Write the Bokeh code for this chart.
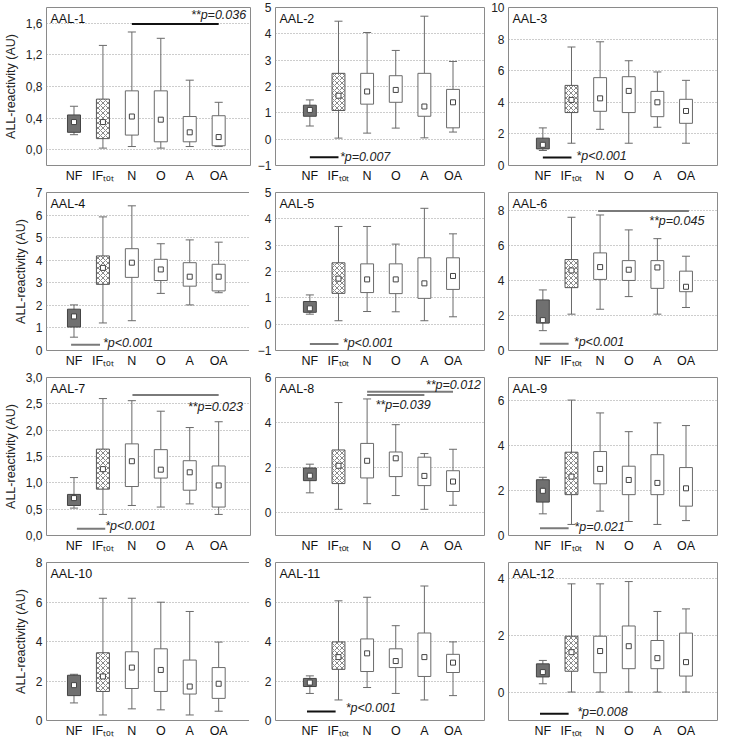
import numpy as np
from bokeh.plotting import figure
from bokeh.layouts import gridplot
from bokeh.models import Label, FixedTicker, Range1d, CustomJSTickFormatter
from bokeh.embed import file_html
from bokeh.resources import INLINE

# ---------------- data ----------------
categories = ["NF", "IF\u209c\u2092\u209c", "N", "O", "A", "OA"]
panel_titles = ["AAL-%d" % i for i in range(1, 13)]
y_axis_title = "ALL-reactivity (AU)"

whisker_high = [
    [0.55, 1.32, 1.49, 1.41, 0.88, 0.60],
    [1.49, 4.48, 4.05, 3.37, 4.67, 2.95],
    [2.38, 7.50, 7.83, 6.63, 5.92, 5.39],
    [2.02, 5.92, 6.41, 4.73, 4.90, 4.80],
    [1.11, 3.71, 3.71, 3.04, 4.40, 3.43],
    [3.45, 7.59, 7.72, 6.87, 6.37, 5.37],
    [1.10, 2.60, 2.56, 2.36, 2.05, 2.16],
    [2.16, 4.89, 5.05, 3.91, 2.63, 2.82],
    [2.58, 6.00, 5.43, 4.60, 4.99, 4.87],
    [2.34, 6.19, 6.19, 5.99, 5.52, 3.97],
    [2.26, 6.06, 6.24, 4.80, 6.81, 3.98],
    [1.11, 3.80, 3.80, 3.88, 2.83, 2.92],
]
box_high = [
    [0.44, 0.64, 0.745, 0.745, 0.42, 0.43],
    [1.29, 2.50, 2.50, 2.41, 2.50, 1.89],
    [1.73, 5.07, 5.56, 5.62, 4.69, 4.19],
    [1.83, 4.19, 4.51, 4.04, 3.89, 3.82],
    [0.86, 2.33, 2.29, 2.29, 2.52, 2.52],
    [2.88, 5.18, 5.56, 5.12, 5.12, 4.52],
    [0.78, 1.64, 1.74, 1.63, 1.42, 1.32],
    [1.99, 2.79, 3.08, 2.70, 2.47, 1.87],
    [2.47, 3.69, 3.72, 3.07, 3.58, 3.01],
    [2.29, 3.43, 3.48, 3.63, 3.06, 2.68],
    [2.13, 3.98, 4.13, 3.63, 4.43, 3.35],
    [0.99, 1.96, 1.96, 2.32, 1.81, 2.07],
]
box_low = [
    [0.22, 0.14, 0.185, 0.10, 0.10, 0.05],
    [0.87, 1.09, 1.33, 1.40, 0.87, 0.43],
    [1.05, 3.35, 3.43, 3.35, 3.09, 2.67],
    [1.04, 2.93, 3.24, 3.10, 2.85, 2.64],
    [0.45, 1.17, 1.20, 1.16, 0.98, 1.32],
    [1.56, 3.58, 4.05, 3.99, 3.54, 3.35],
    [0.57, 0.88, 0.93, 1.09, 0.86, 0.54],
    [1.43, 1.30, 1.55, 1.61, 1.21, 0.95],
    [1.48, 1.81, 2.29, 1.81, 1.81, 1.30],
    [1.26, 1.47, 1.62, 1.47, 1.34, 1.12],
    [1.72, 2.59, 2.48, 2.68, 2.23, 2.43],
    [0.53, 0.73, 0.68, 0.82, 0.82, 0.56],
]
whisker_low = [
    [0.19, 0.02, 0.04, 0.02, 0.04, 0.04],
    [0.50, 0.04, 0.23, 0.42, 0.05, 0.27],
    [0.95, 1.41, 2.29, 1.41, 2.42, 1.41],
    [0.59, 1.22, 1.32, 2.53, 2.02, 2.56],
    [0.38, 0.13, 0.48, 0.47, 0.13, 0.28],
    [1.13, 2.07, 2.35, 3.07, 2.07, 2.45],
    [0.52, 0.40, 0.57, 0.54, 0.60, 0.40],
    [0.89, 0.16, 0.41, 0.77, 0.16, 0.34],
    [0.96, 0.49, 1.08, 0.62, 0.49, 0.66],
    [0.89, 0.28, 0.59, 0.54, 0.28, 0.47],
    [1.37, 1.04, 1.67, 1.37, 1.04, 1.26],
    [0.29, 0.00, 0.00, 0.00, 0.00, 0.00],
]
center_value = [
    [0.35, 0.35, 0.42, 0.38, 0.22, 0.16],
    [1.11, 1.65, 1.81, 1.87, 1.24, 1.40],
    [1.31, 4.15, 4.25, 4.72, 4.00, 3.45],
    [1.51, 3.66, 3.89, 3.59, 3.27, 3.27],
    [0.60, 1.73, 1.70, 1.70, 1.55, 1.83],
    [1.73, 4.56, 4.75, 4.60, 4.73, 3.63],
    [0.71, 1.26, 1.41, 1.25, 1.20, 0.95],
    [1.65, 2.09, 2.31, 2.42, 1.64, 1.39],
    [1.98, 2.61, 2.95, 2.46, 2.33, 2.09],
    [1.79, 2.23, 2.68, 2.56, 1.72, 1.86],
    [1.92, 3.21, 3.40, 3.01, 3.21, 2.93],
    [0.70, 1.40, 1.44, 1.61, 1.19, 1.05],
]

y_limits = [(-0.2, 1.8), (-1, 5), (0, 10), (0, 7), (-1, 5), (0, 9),
            (0, 3), (-1, 6), (0, 7), (0, 8), (0, 8), (-1, 4.55)]
y_ticks = [
    [0, 0.4, 0.8, 1.2, 1.6],
    [-1, 0, 1, 2, 3, 4, 5],
    [0, 2, 4, 6, 8, 10],
    [0, 1, 2, 3, 4, 5, 6, 7],
    [-1, 0, 1, 2, 3, 4, 5],
    [0, 2, 4, 6, 8],
    [0, 0.5, 1.0, 1.5, 2.0, 2.5, 3.0],
    [0, 2, 4, 6],
    [0, 2, 4, 6],
    [0, 2, 4, 6, 8],
    [0, 2, 4, 6, 8],
    [0, 2, 4],
]
comma_decimal_panels = [0, 6]

# significance bars: (from category position, to category position, y)
sig_lines = [
    [(3.0, 6.0, 1.59)],
    [(1.0, 2.0, -0.69)],
    [(1.0, 2.0, 0.50)],
    [(0.9, 1.9, 0.26)],
    [(1.0, 2.0, -0.75)],
    [(2.93, 6.1, 7.95), (0.89, 1.9, 0.38)],
    [(3.02, 6.0, 2.67), (1.1, 2.08, 0.13)],
    [(3.0, 6.0, 5.37), (3.0, 5.0, 5.23)],
    [(0.9, 1.9, 0.32)],
    [],
    [(0.9, 1.9, 0.45)],
    [(0.9, 1.9, -0.76)],
]
# significance texts: (x, y, text, alignment)
sig_texts = [
    [(6.95, 1.70, "**p=0.036", "right")],
    [(2.05, -0.66, "*p=0.007", "left")],
    [(2.17, 0.57, "*p<0.001", "left")],
    [(2.0, 0.32, "*p<0.001", "left")],
    [(2.15, -0.70, "*p<0.001", "left")],
    [(6.64, 7.38, "**p=0.045", "right"), (2.08, 0.47, "*p<0.001", "left")],
    [(6.84, 2.44, "**p=0.023", "right"), (2.08, 0.18, "*p<0.001", "left")],
    [(6.98, 5.66, "**p=0.012", "right"), (3.29, 4.79, "**p=0.039", "left")],
    [(2.1, 0.37, "*p=0.021", "left")],
    [],
    [(2.25, 0.64, "*p<0.001", "left")],
    [(2.2, -0.70, "*p=0.008", "left")],
]

# ---------------- style ----------------
FONT = "Liberation Sans"
DARK_SIG = {0, 1, 2, 10, 11}
FRAME_H = 158
BOX_HALF = 0.225
CAP_HALF = 0.14

xs = np.arange(1, len(categories) + 1, dtype=float)


def make_panel(k):
    col = k % 3
    if col == 0:
        fw, bl, br, xr = 204, 41, 4, (0.05, 7.1)
    elif col == 1:
        fw, bl, br, xr = 209, 20, 4, (-0.2, 7.1)
    else:
        fw, bl, br, xr = 209, 20, 2, (-0.2, 7.1)
    y0, y1 = y_limits[k]
    p = figure(frame_width=fw, frame_height=FRAME_H,
               x_range=Range1d(*xr), y_range=Range1d(y0, y1),
               output_backend="svg", toolbar_location=None,
               min_border_left=bl, min_border_right=br,
               min_border_top=7, min_border_bottom=18,
               outline_line_color="#8a8a8a", outline_line_width=1,
               background_fill_color="white", border_fill_color="white")
    p.xgrid.visible = False
    p.ygrid.ticker = FixedTicker(ticks=y_ticks[k])
    p.ygrid.grid_line_color = "#9a9a9a"
    p.ygrid.grid_line_dash = "1 2"
    p.ygrid.grid_line_width = 1

    ax = p.yaxis[0]
    ax.ticker = FixedTicker(ticks=y_ticks[k])
    ax.axis_line_color = None
    ax.major_tick_line_color = None
    ax.minor_tick_line_color = None
    ax.major_tick_out = 0
    ax.major_tick_in = 0
    ax.minor_tick_out = 0
    ax.major_label_standoff = 4
    ax.major_label_text_font = FONT
    ax.major_label_text_font_size = "12px"
    ax.major_label_text_color = "#222222"
    if k in comma_decimal_panels:
        ax.formatter = CustomJSTickFormatter(
            code="return tick.toFixed(1).replace('.', ',');")
    if col == 0:
        ax.axis_label = y_axis_title
        ax.axis_label_text_font = FONT
        ax.axis_label_text_font_size = "12.5px"
        ax.axis_label_text_font_style = "normal"
        ax.axis_label_text_color = "#222222"
        ax.axis_label_standoff = 5

    xa = p.xaxis[0]
    xa.ticker = FixedTicker(ticks=list(xs))
    xa.major_label_overrides = {float(x): c for x, c in zip(xs, categories)}
    xa.axis_line_color = None
    xa.major_tick_line_color = None
    xa.minor_tick_line_color = None
    xa.major_tick_out = 0
    xa.major_tick_in = 0
    xa.minor_tick_out = 0
    xa.major_label_standoff = 3
    xa.major_label_text_font = FONT
    xa.major_label_text_font_size = "12.5px"
    xa.major_label_text_color = "#111111"

    lo = np.array(whisker_low[k])
    hi = np.array(whisker_high[k])
    q1 = np.array(box_low[k])
    q3 = np.array(box_high[k])
    mid = np.array(center_value[k])

    # whiskers + caps
    p.segment(x0=xs, y0=lo, x1=xs, y1=hi, line_color="#6a6a6a", line_width=1)
    p.segment(x0=xs - CAP_HALF, y0=hi, x1=xs + CAP_HALF, y1=hi, line_color="#6a6a6a", line_width=1)
    p.segment(x0=xs - CAP_HALF, y0=lo, x1=xs + CAP_HALF, y1=lo, line_color="#6a6a6a", line_width=1)

    # boxes
    p.quad(left=xs[:1] - BOX_HALF, right=xs[:1] + BOX_HALF, bottom=q1[:1], top=q3[:1],
           fill_color="#707070", line_color="#444444", line_width=1)
    p.quad(left=xs[1:2] - BOX_HALF, right=xs[1:2] + BOX_HALF, bottom=q1[1:2], top=q3[1:2],
           fill_color="white", line_color="#555555", line_width=1,
           hatch_pattern="diagonal_cross", hatch_color="#555555",
           hatch_scale=5, hatch_weight=0.7)
    p.quad(left=xs[2:] - BOX_HALF, right=xs[2:] + BOX_HALF, bottom=q1[2:], top=q3[2:],
           fill_color="white", line_color="#6a6a6a", line_width=1)

    # central markers
    p.scatter(x=xs, y=mid, marker="square", size=5, fill_color="white",
              line_color="#444444", line_width=1)

    # significance
    for (a, b, yy) in sig_lines[k]:
        p.segment(x0=[a], y0=[yy], x1=[b], y1=[yy],
                  line_color="#111111" if k in DARK_SIG else "#7a7a7a", line_width=2)
    for (tx, ty, txt, al) in sig_texts[k]:
        p.add_layout(Label(x=tx, y=ty, text=txt, text_align=al, text_baseline="middle",
                           text_font=FONT, text_font_size="12.5px",
                           text_font_style="italic", text_color="#222222"))

    # panel title
    p.add_layout(Label(x=xr[0], y=y1, x_offset=4, y_offset=-4, text=panel_titles[k],
                       text_align="left", text_baseline="top", text_font=FONT,
                       text_font_size="12.5px", text_color="#111111"))
    return p


panels = [make_panel(k) for k in range(12)]
rows = [panels[r * 3:(r + 1) * 3] for r in range(4)]
grid = gridplot(rows, toolbar_location=None)

open("out.html", "w").write(file_html(grid, INLINE))
